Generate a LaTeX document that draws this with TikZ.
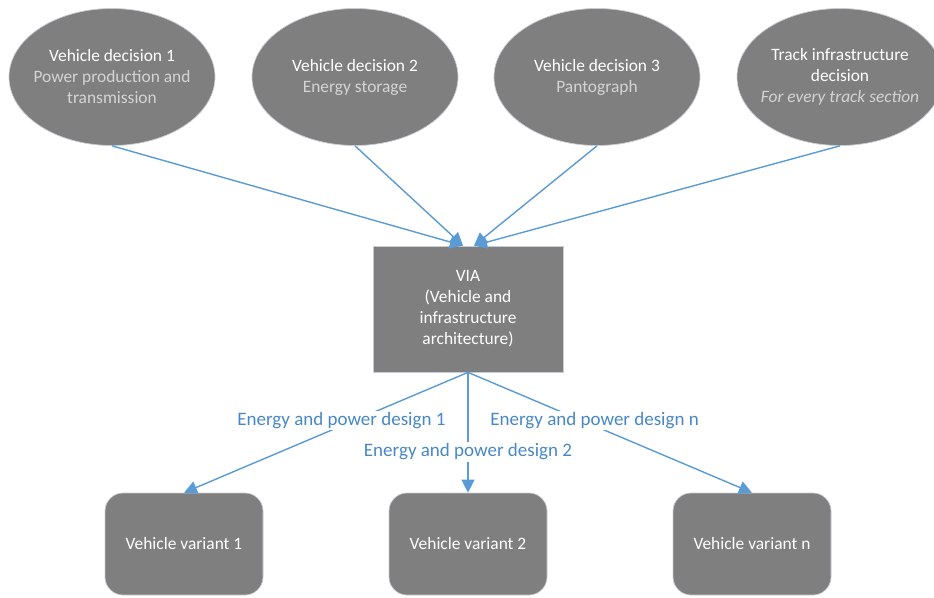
\documentclass[tikz,border=0pt]{standalone}
\usepackage{fontspec}
\setmainfont{Carlito}
\usetikzlibrary{shapes.geometric,arrows.meta,calc}
\definecolor{boxgray}{RGB}{127,127,127}
\definecolor{subgray}{RGB}{212,212,212}
\definecolor{lineblue}{RGB}{91,155,213}
\definecolor{labelblue}{RGB}{72,136,200}
\definecolor{edgegray}{RGB}{200,204,212}
\begin{document}
\begin{tikzpicture}[x=1pt,y=-1pt,
  decision/.style={ellipse, fill=boxgray, draw=edgegray, line width=0.7pt,
    minimum width=206pt, minimum height=137pt, inner xsep=-30pt, inner ysep=0pt, text=white,
    align=center, font=\fontsize{17.4}{21}\selectfont},
  viabox/.style={rectangle, fill=boxgray, draw=edgegray, line width=0.7pt,
    minimum width=190pt, minimum height=126pt, inner sep=0pt, text=white,
    align=center, font=\fontsize{17.4}{21}\selectfont},
  variant/.style={rectangle, rounded corners=18pt, fill=boxgray, draw=edgegray,
    line width=0.7pt, minimum width=158pt, minimum height=102pt, inner sep=0pt,
    text=white, align=center, font=\fontsize{17.4}{21}\selectfont},
  conn/.style={draw=lineblue, line width=1.4pt, -{Triangle[length=13pt,width=13pt]}},
  lbl/.style={fill=white, text=labelblue, inner sep=1.5pt,
    font=\fontsize{19}{23}\selectfont}
]
\useasboundingbox[fill=white] (0,0) rectangle (934,597);

\node[decision] (d1) at (112,77) {Vehicle decision 1\\ \textcolor{subgray}{Power production and}\\ \textcolor{subgray}{transmission}};
\node[decision] (d2) at (355,77) {Vehicle decision 2\\ \textcolor{subgray}{Energy storage}};
\node[decision] (d3) at (597,77) {Vehicle decision 3\\ \textcolor{subgray}{Pantograph}};
\node[decision] (d4) at (840,77) {Track infrastructure\\ decision\\ \textcolor{subgray}{\itshape For every track section}};

\node[viabox] (via) at (468,309) {VIA\\ (Vehicle and\\ infrastructure\\ architecture)};

\node[variant] (v1) at (184,544) {Vehicle variant 1};
\node[variant] (v2) at (468,544) {Vehicle variant 2};
\node[variant] (vn) at (752,544) {Vehicle variant n};

\coordinate (inL) at ($(via.north)+(-5,0)$);
\coordinate (inR) at ($(via.north)+(6,0)$);

\draw[conn] (d1.south) -- (inL);
\draw[conn] (d2.south) -- (inL);
\draw[conn] (d3.south) -- (inR);
\draw[conn] (d4.south) -- (inR);

\draw[conn] (via.south) -- node[lbl, pos=0.4, xshift=-13pt] (l1) {Energy and power design 1} (v1.north);
\draw[conn] (via.south) -- node[lbl, pos=0.661] (l2) {Energy and power design 2} (v2.north);
\draw[conn] (via.south) -- node[lbl, pos=0.4, xshift=13pt] (ln) {Energy and power design n} (vn.north);
\end{tikzpicture}
\end{document}
